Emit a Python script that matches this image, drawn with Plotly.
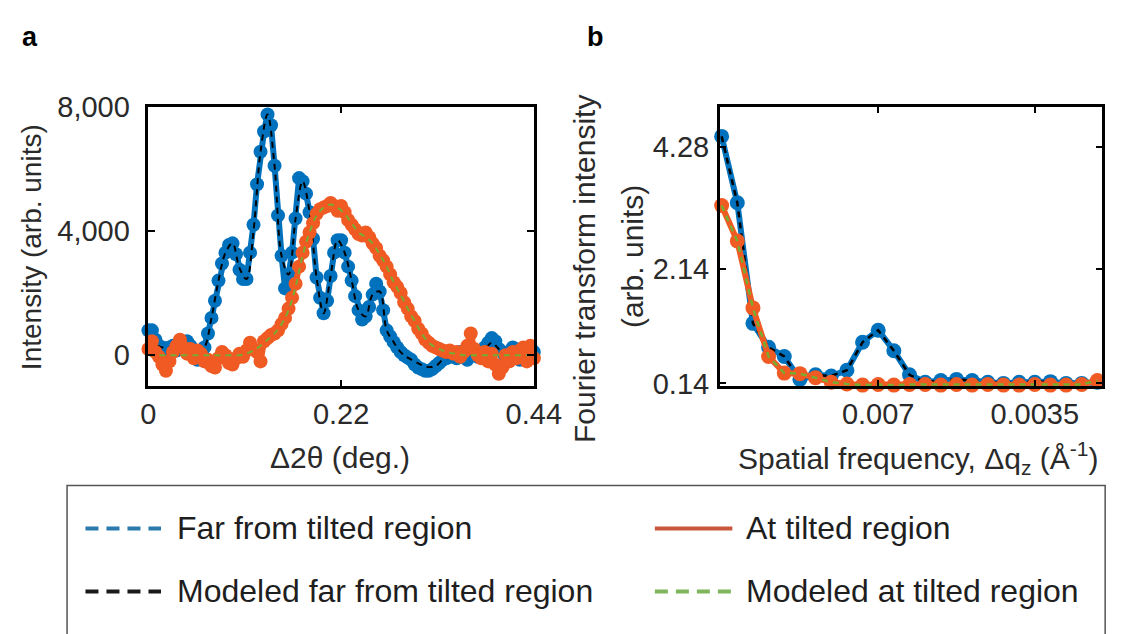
import numpy as np
import plotly.graph_objects as go

W, H = 1138, 634

# ---------------- panel a: diffraction profiles ----------------
two_theta = np.round(np.linspace(0.0, 0.44, 111), 4)

far_intensity = [
    800, 800, 500, 300, 250, 200, 250, 300, 150, 250,
    350, 450, 300, 50, -150, -100, 250, 700, 1200, 1750,
    2400, 2950, 3300, 3550, 3600, 3250, 2750, 2450, 2450, 3300,
    4200, 5500, 6550, 7200, 7750, 7400, 6100, 4500, 3200, 2150,
    2600, 3300, 4400, 5700, 5600, 5200, 4600, 3750, 2500, 1850,
    1350, 1750, 2550, 3300, 3700, 3700, 3300, 2850, 2400, 1900,
    1450, 1150, 1250, 1550, 1950, 2300, 2050, 1450, 800, 600,
    420, 250, 100, 0, -80, -150, -300, -400, -450, -500,
    -500, -450, -350, -250, -150, -100, -50, 50, -100, 100,
    0, -150, 50, 150, -50, 100, 250, 400, 550, 450,
    200, 100, -100, 50, 250, 100, -150, 50, 150, 250,
    100,
]

tilted_intensity = [
    200, 450, 100, -50, -300, -500, -200, 100, 300, 500,
    250, 50, 200, -100, 150, 50, -200, -150, -350, -400,
    -100, 100, 0, -250, -300, -100, 50, -50, 150, 400,
    200, 100, -200, 450, 550, 650, 700, 800, 1000, 1200,
    1500, 1850, 2300, 2850, 3300, 3650, 3950, 4250, 4550, 4700,
    4750, 4800, 4900, 4800, 4650, 4800, 4600, 4350, 4200, 4050,
    3900, 3850, 3950, 3800, 3600, 3450, 3200, 3050, 2850, 2600,
    2350, 2200, 2000, 1700, 1500, 1250, 1100, 850, 700, 500,
    400, 300, 250, 200, 150, 100, 150, 50, 100, -50,
    100, 300, 700, 200, 0, -100, 100, -200, 50, -300,
    -600, -400, 0, -200, 100, -100, 150, 250, -200, 300,
    -100,
]

model_theta = np.round(np.linspace(0.0, 0.44, 56), 4)

model_far = [
    500, 350, 250, 250, 250, 300, 250, 50, 250, 1200,
    2400, 3300, 3600, 2800, 2450, 4000, 6550, 7750, 6100, 3200,
    2600, 4400, 5600, 4600, 2500, 1350, 2550, 3700, 3300, 2400,
    1450, 1250, 1950, 2050, 800, 420, 100, -80, -200, -320,
    -380, -350, -150, -50, 0, 0, 50, 50, 200, 400,
    200, 0, 100, 0, 100, 100,
]

model_tilted = [
    0, 0, 0, 0, 0, 0, 0, 0, 0, 0,
    0, 0, 0, 0, 50, 150, 300, 500, 700, 1000,
    1450, 2200, 3200, 3950, 4500, 4750, 4850, 4750, 4550, 4250,
    3950, 3800, 3600, 3250, 2850, 2350, 1950, 1500, 1100, 700,
    400, 250, 150, 80, 40, 0, 0, 0, 0, 0,
    0, 0, 0, 0, 0, 0,
]

a_xticks = [0.0, 0.22, 0.44]
a_xticktext = ["0", "0.22", "0.44"]
a_yticks = [0, 4000, 8000]
a_yticktext = ["0", "4,000", "8,000"]

# ---------------- panel b: Fourier transforms ----------------
freq_bin = [0, 1, 2, 3, 4, 5, 6, 7, 8, 9, 10, 11, 12,
            13, 14, 15, 16, 17, 18, 19, 20, 21, 22, 23, 24]

ft_far = [4.46, 3.30, 1.19, 0.77, 0.61, 0.21, 0.29, 0.27, 0.37, 0.86,
          1.07, 0.71, 0.29, 0.16, 0.19, 0.21, 0.19, 0.16, 0.14, 0.16,
          0.16, 0.17, 0.14, 0.14, 0.16]

ft_tilted = [3.25, 2.63, 1.46, 0.61, 0.32, 0.31, 0.24, 0.16, 0.13, 0.11,
             0.12, 0.11, 0.12, 0.12, 0.11, 0.12, 0.11, 0.12, 0.11, 0.11,
             0.12, 0.11, 0.11, 0.12, 0.19]

ft_model_far = ft_far
ft_model_tilted = ft_tilted

b_xticks = [10, 20]
b_xticktext = ["0.007", "0.0035"]
b_yticks = [0.14, 2.14, 4.28]
b_yticktext = ["0.14", "2.14", "4.28"]

# ---------------- styling ----------------
BLUE = "#0072BD"
ORANGE = "#F05A23"
GREEN = "#77AC30"
FONT = "Liberation Sans, Arial, sans-serif"
TXT = "#2a2a2a"


def px(x):
    return x / W


def py(y):
    return 1 - y / H


fig = go.Figure()

# panel a traces
fig.add_trace(go.Scatter(x=two_theta, y=far_intensity, mode="lines+markers",
                         line=dict(color=BLUE, width=6), marker=dict(color=BLUE, size=14),
                         cliponaxis=False, xaxis="x", yaxis="y"))
fig.add_trace(go.Scatter(x=model_theta, y=model_far, mode="lines",
                         line=dict(color="black", width=2, dash="6px,5px", shape="spline"),
                         cliponaxis=False, xaxis="x", yaxis="y"))
fig.add_trace(go.Scatter(x=two_theta, y=tilted_intensity, mode="lines+markers",
                         line=dict(color=ORANGE, width=6), marker=dict(color=ORANGE, size=14),
                         cliponaxis=False, xaxis="x", yaxis="y"))
fig.add_trace(go.Scatter(x=model_theta, y=model_tilted, mode="lines",
                         line=dict(color=GREEN, width=2, dash="6px,5px", shape="spline"),
                         cliponaxis=False, xaxis="x", yaxis="y"))

# panel b traces
fig.add_trace(go.Scatter(x=freq_bin, y=ft_far, mode="lines+markers",
                         line=dict(color=BLUE, width=6), marker=dict(color=BLUE, size=15),
                         cliponaxis=False, xaxis="x2", yaxis="y2"))
fig.add_trace(go.Scatter(x=freq_bin, y=ft_model_far, mode="lines",
                         line=dict(color="black", width=2.5, dash="6px,5px"),
                         cliponaxis=False, xaxis="x2", yaxis="y2"))
fig.add_trace(go.Scatter(x=freq_bin, y=ft_tilted, mode="lines+markers",
                         line=dict(color=ORANGE, width=6), marker=dict(color=ORANGE, size=15),
                         cliponaxis=False, xaxis="x2", yaxis="y2"))
fig.add_trace(go.Scatter(x=freq_bin, y=ft_model_tilted, mode="lines",
                         line=dict(color=GREEN, width=2.5, dash="6px,5px"),
                         cliponaxis=False, xaxis="x2", yaxis="y2"))

axis_common = dict(showline=True, linecolor="black", linewidth=2.5, mirror="ticks",
                   ticks="inside", ticklen=7, tickwidth=2, tickcolor="black",
                   showgrid=False, zeroline=False,
                   tickfont=dict(family=FONT, size=29, color=TXT))

ydom = [py(388), py(95)]

fig.update_layout(
    width=W, height=H,
    margin=dict(l=0, r=0, t=0, b=0),
    paper_bgcolor="white", plot_bgcolor="white",
    showlegend=False,
    xaxis=dict(domain=[px(145), px(543)], range=[0, 0.44], tickmode="array",
               tickvals=a_xticks, ticktext=a_xticktext, anchor="y", **axis_common),
    yaxis=dict(domain=ydom, range=[-1000, 8000], tickmode="array",
               tickvals=a_yticks, ticktext=a_yticktext, anchor="x",
               ticklabelstandoff=10, **axis_common),
    xaxis2=dict(domain=[px(735), px(1130)], range=[-0.12, 24.31], tickmode="array",
                tickvals=b_xticks, ticktext=b_xticktext, anchor="y2", **axis_common),
    yaxis2=dict(domain=ydom, range=[0.09, 4.98], tickmode="array",
                tickvals=b_yticks, ticktext=b_yticktext, anchor="x2",
                ticklabelstandoff=2, **axis_common),
)

ann = []


def text(x, y, s, size, angle=0, bold=False, xanchor="center", color=TXT):
    ann.append(dict(x=px(x), y=py(y), xref="paper", yref="paper", text=s,
                    showarrow=False, textangle=angle, xanchor=xanchor, yanchor="middle",
                    font=dict(family=FONT, size=size, color=color)))


# panel labels
text(23, 22, "<b>a</b>", 27, color="black")
text(607, 22, "<b>b</b>", 27, color="black")

# axis titles
text(25, 242, "Intensity (arb. units)", 28, angle=-90)
text(343, 463, "Δ2θ (deg.)", 30)
text(596, 265, "Fourier transform intensity", 30, angle=-90)
text(645, 252, "(arb. units)", 30, angle=-90)
text(940, 463, "Spatial frequency, Δq<sub>z</sub> (Å<sup>-1</sup>)", 30)

# legend panel
shapes = [dict(type="rect", xref="paper", yref="paper", x0=px(61), x1=px(1133),
               y0=py(660), y1=py(492), line=dict(color="#555555", width=1.5))]

legend_rows = [
    (80, 158, 537, "#2A7AAE", "13px,8px", 172, "Far from tilted region"),
    (668, 748, 537, "#C9573B", "solid", 760, "At tilted region"),
    (80, 158, 603, "#1a1a1a", "13px,8px", 172, "Modeled far from tilted region"),
    (668, 748, 603, "#7FB55C", "13px,8px", 760, "Modeled at tilted region"),
]
for x0, x1, y, col, dash, tx, label in legend_rows:
    shapes.append(dict(type="line", xref="paper", yref="paper", x0=px(x0), x1=px(x1),
                       y0=py(y), y1=py(y), line=dict(color=col, width=4, dash=dash)))
    text(tx, y, label, 32, xanchor="left", color="#1e1e1e")

fig.update_layout(annotations=ann, shapes=shapes)

fig.write_html("out.html")
